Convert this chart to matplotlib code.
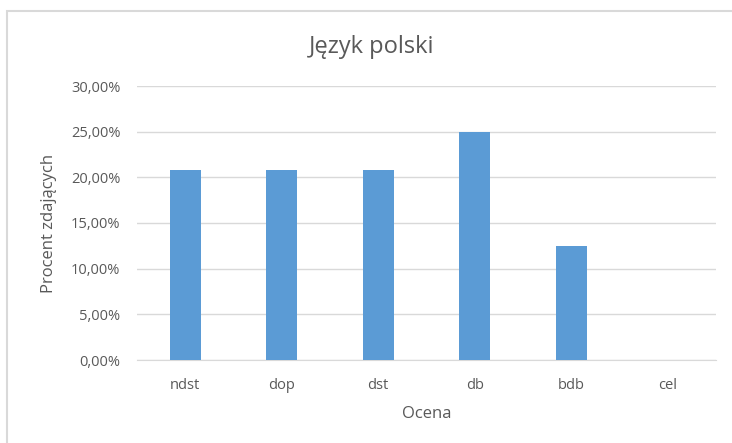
import matplotlib.pyplot as plt
from matplotlib.patches import Rectangle
from matplotlib.ticker import FuncFormatter

oceny = ['ndst', 'dop', 'dst', 'db', 'bdb', 'cel']
procent = [0.2083, 0.2083, 0.2083, 0.25, 0.125, 0.0]

plt.rcParams['font.family'] = ['Open Sans', 'DejaVu Sans']
txt = '#595959'

fig = plt.figure(figsize=(7.32, 4.43), dpi=100)
ax = fig.add_axes([137 / 732, 1 - 360 / 443, 579 / 732, 274 / 443])

# chart border (cut off on right/bottom like the screenshot)
fig.patches.append(Rectangle((7 / 732, -0.05), 1.0, 1 - 11 / 443 + 0.05,
                             transform=fig.transFigure, fill=False,
                             edgecolor='#d9d9d9', linewidth=1.5))

ax.bar(range(len(oceny)), procent, width=0.32, color='#5b9bd5', zorder=3)

ax.set_xlim(-0.5, len(oceny) - 0.5)
ax.set_ylim(0, 0.30)
ax.set_yticks([i * 0.05 for i in range(7)])
ax.yaxis.set_major_formatter(FuncFormatter(lambda v, p: f'{v * 100:.2f}%'.replace('.', ',')))
ax.set_xticks(range(len(oceny)))
ax.set_xticklabels(oceny)

ax.grid(axis='y', color='#d9d9d9', linewidth=1, zorder=0)
for s in ['top', 'right', 'left']:
    ax.spines[s].set_visible(False)
ax.spines['bottom'].set_color('#d9d9d9')
ax.tick_params(length=0, colors=txt, labelsize=10.5)
ax.tick_params(axis='x', pad=13)
ax.tick_params(axis='y', pad=12)

ax.set_xlabel('Ocena', color=txt, fontsize=12, labelpad=9)
ax.set_ylabel('Procent zdających', color=txt, fontsize=12, labelpad=10)
fig.text(372 / 732, 1 - 47 / 443, 'Język polski', ha='center', va='center',
         color=txt, fontsize=17)

fig.savefig('out.png', dpi=100)
